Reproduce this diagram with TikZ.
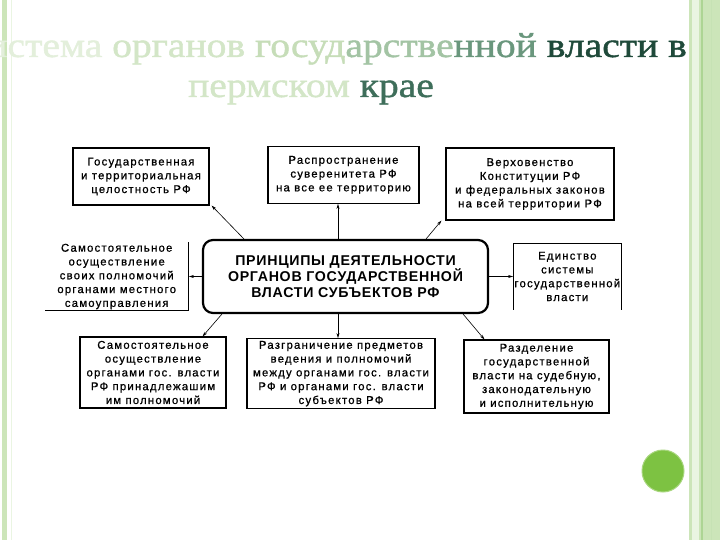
\documentclass[tikz,border=0pt]{standalone}
\usepackage{fontspec}
\usepackage{xcolor}
\usetikzlibrary{arrows.meta, positioning}
\newfontfamily\titlefont[FakeStretch=1.13, FakeBold=1.2]{Liberation Serif}
\newfontfamily\boxfont[LetterSpace=11, FakeBold=0.8]{Liberation Sans}
\newfontfamily\headfont[LetterSpace=5]{Liberation Sans}
\definecolor{tone1}{HTML}{E3EFDB}
\definecolor{tone2}{HTML}{D3E6C7}
\definecolor{tone3}{HTML}{C6DDB8}
\definecolor{tone4}{HTML}{A3C4A4}
\definecolor{tone5}{HTML}{6A977D}
\definecolor{tone6}{HTML}{1F4A3A}
\definecolor{tone7}{HTML}{3E6E5A}
\definecolor{stripegreen}{HTML}{CCE5B9}
\definecolor{stripepale}{HTML}{EAF5E2}
\definecolor{stripeline}{HTML}{ADD594}
\definecolor{dotgreen}{HTML}{7DC242}
\definecolor{dotrim}{HTML}{A8D67E}

\begin{document}
\begin{tikzpicture}[
    x=1pt, y=-1pt,
    font=\boxfont\fontsize{11.3}{13.8}\selectfont,
    >={Stealth[length=5pt,width=3pt]},
    pbox/.style={rectangle, draw, line width=1.1pt, inner sep=1pt, align=center},
    openbox/.style={rectangle, inner sep=1pt, align=center},
    link/.style={->, line width=0.6pt},
]
    \useasboundingbox (0,0) rectangle (720,540);
    \fill[white] (0,0) rectangle (720,540);

    % side stripes
    \fill[stripegreen] (2,0) rectangle (7,540);
    \draw[stripepale, line width=1pt] (11,0) -- (11,540);
    \fill[stripegreen] (689,0) rectangle (720,540);
    \fill[stripepale] (692,0) rectangle (699,540);
    \draw[stripeline, line width=1.5pt] (702,0) -- (702,540);
    \draw[stripeline!70, line width=0.8pt] (711,0) -- (711,540);

    % title
    \node[anchor=base east, inner sep=0pt, font=\titlefont\fontsize{35}{40}\selectfont] (title) at (687,57)
        {\textcolor{tone1}{Система} \textcolor{tone2}{органов} \textcolor{tone3}{госуд}\textcolor{tone4}{арстве}\textcolor{tone5}{нной} \textcolor{tone6}{власти в}};
    \node[anchor=base, inner sep=0pt, font=\titlefont\fontsize{35}{40}\selectfont] (subtitle) at (311,97)
        {\textcolor{tone2}{пермском} \textcolor{tone7}{крае}};

    \node[pbox, line width=2.2pt, rounded corners=10pt, minimum width=285pt, minimum height=73pt, font=\headfont\bfseries\fontsize{14.2}{15.5}\selectfont] (principles) at (345.5,276.5)
        {ПРИНЦИПЫ ДЕЯТЕЛЬНОСТИ\\ОРГАНОВ ГОСУДАРСТВЕННОЙ\\ВЛАСТИ СУБЪЕКТОВ РФ};

    \node[pbox, minimum width=136pt, minimum height=57pt] (integrity) at (141,176.5)
        {Государственная\\и территориальная\\целостность РФ};
    \node[pbox, minimum width=151pt, minimum height=57pt, above=35pt of principles, xshift=-2pt] (sovereignty)
        {Распространение\\суверенитета РФ\\на все ее территорию};
    \node[pbox, minimum width=168pt, minimum height=72pt] (supremacy) at (530,184)
        {Верховенство\\Конституции РФ\\и федеральных законов\\на всей территории РФ};
    \node[openbox, minimum width=144pt, minimum height=68pt, left=13pt of principles] (selfgov)
        {Самостоятельное\\осуществление\\своих полномочий\\органами местного\\самоуправления};
    \node[openbox, minimum width=108pt, minimum height=66pt, right=24pt of principles] (unity)
        {Единство\\системы\\государственной\\власти};
    \node[pbox, minimum width=146pt, minimum height=71pt] (ownpowers) at (153,372.5)
        {Самостоятельное\\осуществление\\органами гос. власти\\РФ принадлежашим\\им полномочий};
    \node[pbox, minimum width=188pt, minimum height=70pt, below=24pt of principles, xshift=-4.5pt] (delimit)
        {Разграничение предметов\\ведения и полномочий\\между органами гос. власти\\РФ и органами гос. власти\\субъектов РФ};
    \node[pbox, minimum width=145pt, minimum height=73pt] (separation) at (536.5,376.5)
        {Разделение\\государственной\\власти на судебную,\\законодательную\\и исполнительную};

    % partly framed boxes
    \draw[line width=1pt] (selfgov.north east) -- (selfgov.south east) -- (selfgov.south west);
    \draw[line width=1.1pt] (unity.south west) |- (unity.north east) -- (unity.south east);

    \draw[link] ([xshift=42pt]principles.north west) -- ([xshift=2pt]integrity.south east);
    \draw[link] ([xshift=-7.5pt]principles.north) -- ([xshift=-5.5pt]sovereignty.south);
    \draw[link] ([xshift=-63pt]principles.north east) -- ([xshift=-4pt]supremacy.south west);
    \draw[link] (principles.west) -- (selfgov.east);
    \draw[link] (principles.east) -- (unity.west);
    \draw[link] ([xshift=20pt]principles.south west) -- ([xshift=-24pt]ownpowers.north east);
    \draw[link] ([xshift=-7.5pt]principles.south) -- ([xshift=-3pt]delimit.north);
    \draw[link] ([xshift=-26pt]principles.south east) -- ([xshift=21pt]separation.north west);

    \fill[dotgreen, draw=dotrim, line width=1pt] (663,471) circle[radius=21pt];
\end{tikzpicture}
\end{document}
